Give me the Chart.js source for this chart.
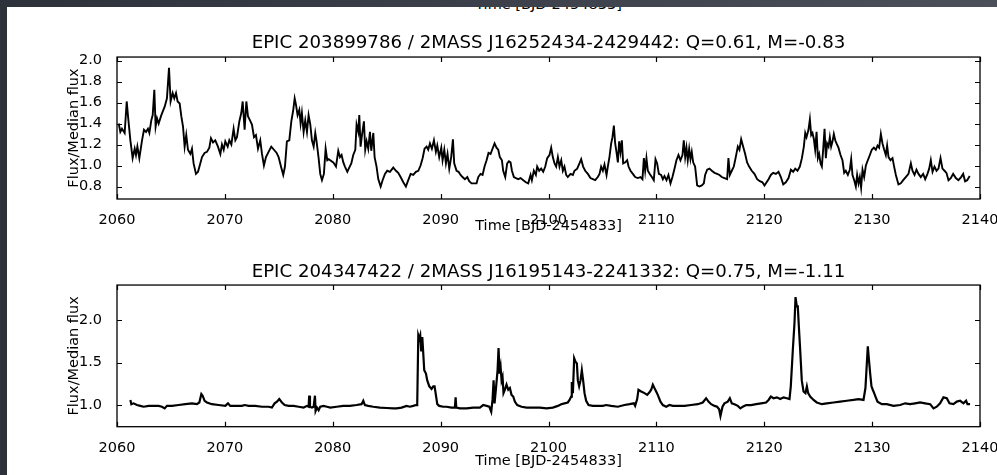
<!DOCTYPE html>
<html>
<head>
<meta charset="utf-8">
<script src="https://cdn.jsdelivr.net/npm/chart.js@4.4.1/dist/chart.umd.min.js"></script>
<style>
	html, body { margin: 0; padding: 0; }
	body { width: 997px; height: 475px; overflow: hidden; background: linear-gradient(90deg, #2d313a 0%, #3d424d 55%, #4b505b 100%); }
	#sheet { position: absolute; left: 7px; top: 7px; width: 990px; height: 468px; background: #fff; overflow: hidden; }
	#sheet canvas { position: absolute; left: -7px; }
	#cutLabel { position: absolute; left: -7px; top: -11px; width: 1097px; text-align: center; font: 14.5px "DejaVu Sans"; line-height: 17px; color: #000; }
</style>
</head>
<body>
<div id="sheet">
	<div id="cutLabel">Time [BJD-2454833]</div>
	<canvas id="lc1" width="997" height="240" style="top:-7px; width:997px; height:240px;"></canvas>
	<canvas id="lc2" width="997" height="235" style="top:233px; width:997px; height:235px;"></canvas>
</div>
<script>
// EPIC 203899786 : time [BJD-2454833] / flux
const time1 = [
	2060.16,2060.31,2060.46,2060.71,2060.90,2061.02,2061.24,2061.45,2061.64,2061.76,
	2061.89,2062.07,2062.32,2062.50,2062.69,2062.87,2063.00,2063.18,2063.31,2063.46,
	2063.58,2063.71,2063.86,2064.11,2064.42,2064.63,2064.82,2064.97,2065.16,2065.31,
	2065.47,2065.62,2065.81,2065.96,2066.12,2066.27,2066.42,2066.58,2066.80,2066.95,
	2067.10,2067.32,2067.51,2067.72,2067.88,2068.12,2068.34,2068.56,2068.71,2068.90,
	2069.11,2069.36,2069.58,2069.73,2069.89,2070.04,2070.26,2070.41,2070.60,2070.81,
	2070.97,2071.12,2071.34,2071.52,2071.65,2071.83,2071.99,2072.14,2072.33,2072.51,
	2072.70,2072.88,2073.07,2073.28,2073.44,2073.62,2073.81,2074.05,2074.30,2074.55,
	2074.80,2074.98,2075.20,2075.41,2075.57,2075.75,2075.97,2076.16,2076.34,2076.47,
	2076.59,2076.74,2076.90,2077.02,2077.14,2077.30,2077.45,2077.61,2077.76,2077.92,
	2078.07,2078.23,2078.38,2078.50,2078.69,2078.84,2079.00,2079.18,2079.34,2079.49,
	2079.62,
	2080.05,2080.30,2080.51,2080.67,2080.82,2080.98,2081.13,2081.35,2081.53,2081.72,
	2081.90,2082.09,2082.21,2082.37,2082.46,2082.58,2082.71,2082.89,2083.01,2083.14,
	2083.29,2083.45,2083.57,2083.76,2083.88,2084.06,2084.22,2084.44,2084.62,2084.84,
	2085.05,2085.30,2085.61,2085.86,2086.07,2086.29,2086.54,2086.78,2087.00,2087.22,
	2087.46,2087.71,2087.93,2088.14,2088.33,2088.51,2088.70,2088.85,2089.01,2089.19,
	2089.38,2089.56,2089.69,2089.87,2090.06,2090.18,2090.34,2090.49,2090.64,2090.80,
	2090.98,2091.14,2091.26,2091.48,2091.66,2091.85,2092.03,2092.25,2092.47,2092.65,
	2092.87,2093.08,2093.33,2093.49,2093.70,2093.89,2094.07,2094.26,2094.44,2094.63,
	2094.81,2095.00,2095.18,2095.34,2095.49,2095.68,2095.80,2095.99,2096.17,2096.33,
	2096.48,2096.61,2096.79,2096.98,2097.19,2097.41,2097.66,2097.90,2098.12,2098.34,
	2098.46,2098.64,2098.83,2098.95,2099.14,2099.32,2099.51,2099.70,2099.88,
	2100.09,2100.25,2100.40,2100.56,2100.71,2100.87,2101.02,2101.18,2101.33,2101.48,
	2101.64,2101.79,2102.04,2102.26,2102.41,2102.66,2102.87,2103.03,2103.21,2103.40,
	2103.65,2103.89,2104.11,2104.33,2104.57,2104.73,2104.88,2105.04,2105.19,2105.38,
	2105.50,2105.65,2105.81,2105.93,2106.06,2106.18,2106.30,2106.43,2106.55,2106.67,
	2106.80,2106.92,2107.11,2107.29,2107.42,2107.60,2107.82,2108.03,2108.28,2108.53,
	2108.71,2108.84,2108.96,2109.08,2109.21,2109.39,2109.58,2109.76,2109.92,2110.07,
	2110.23,2110.44,2110.60,2110.75,2110.94,2111.12,2111.31,2111.49,2111.68,2111.86,
	2112.05,2112.23,2112.42,2112.54,2112.67,2112.79,2112.91,2113.04,2113.16,2113.28,
	2113.41,2113.59,2113.78,2113.99,2114.21,2114.40,2114.52,2114.71,2114.92,2115.14,
	2115.39,2115.63,2115.85,2116.06,2116.31,2116.56,2116.68,2116.81,2116.99,2117.18,
	2117.36,2117.55,2117.70,2117.86,2118.04,2118.23,2118.41,2118.60,2118.84,2119.09,
	2119.34,2119.59,2119.83,2120.02,
	2120.40,2120.61,2120.83,2121.08,2121.32,2121.54,2121.76,2122.00,2122.25,2122.47,
	2122.68,2122.87,2123.08,2123.30,2123.49,2123.67,2123.80,2123.92,2124.10,2124.23,
	2124.35,2124.47,2124.60,2124.72,2124.85,2124.97,2125.09,2125.22,2125.34,2125.46,
	2125.59,2125.71,2125.83,2125.96,2126.08,2126.20,2126.33,2126.45,2126.58,2126.70,
	2126.88,2127.07,2127.25,2127.41,2127.56,2127.75,2127.93,2128.06,2128.18,2128.34,
	2128.49,2128.61,2128.74,2128.86,2128.98,2129.11,2129.26,2129.42,2129.60,2129.79,
	2129.97,2130.16,2130.34,2130.50,2130.65,2130.81,2130.96,2131.12,2131.27,2131.39,
	2131.52,2131.70,2131.89,2132.04,2132.20,2132.44,2132.66,2132.88,2133.12,2133.37,
	2133.59,2133.74,2133.93,2134.11,2134.30,2134.51,2134.73,2134.92,2135.13,2135.29,
	2135.44,2135.60,2135.78,2135.97,2136.15,2136.34,2136.52,2136.71,2136.89,2137.08,
	2137.29,2137.51,2137.76,2138.00,2138.25,2138.44,2138.62,2138.81,2139.05
];
const flux1 = [
	1.40,1.32,1.35,1.31,1.61,1.47,1.24,1.07,1.16,1.10,
	1.18,1.07,1.24,1.34,1.32,1.35,1.31,1.43,1.48,1.72,
	1.37,1.45,1.40,1.48,1.56,1.64,1.93,1.61,1.69,1.64,
	1.69,1.61,1.59,1.47,1.37,1.18,1.29,1.15,1.11,1.16,
	1.02,0.92,0.94,1.02,1.08,1.12,1.13,1.17,1.26,1.22,
	1.24,1.18,1.11,1.20,1.15,1.23,1.18,1.24,1.20,1.35,
	1.24,1.27,1.42,1.50,1.61,1.34,1.61,1.47,1.43,1.39,
	1.27,1.29,1.16,1.24,1.11,1.00,1.08,1.13,1.18,1.15,
	1.12,1.08,0.99,0.91,0.99,1.23,1.24,1.42,1.53,1.64,
	1.58,1.48,1.53,1.40,1.50,1.32,1.43,1.32,1.48,1.39,
	1.24,1.18,1.31,1.23,1.07,0.92,0.86,0.92,1.16,1.05,
	1.06,
	1.03,0.99,1.14,1.08,1.10,1.03,0.99,0.94,0.98,1.02,
	1.10,1.15,1.39,1.32,1.48,1.18,1.29,1.42,1.15,1.23,
	1.16,1.32,1.14,1.31,1.08,0.99,0.87,0.80,0.86,0.92,
	0.95,0.94,0.98,0.95,0.93,0.89,0.84,0.80,0.86,0.92,
	0.91,0.94,0.95,1.00,1.07,1.16,1.18,1.15,1.21,1.16,
	1.24,1.13,1.19,1.08,1.17,1.05,1.15,1.02,1.11,0.97,
	1.08,1.25,1.02,0.95,0.94,0.91,0.89,0.87,0.89,0.85,
	0.83,0.83,0.83,0.89,0.92,0.91,0.99,1.05,1.12,1.11,
	1.16,1.21,1.17,1.15,1.08,1.05,0.95,0.89,1.02,1.04,
	1.03,0.95,0.89,0.88,0.87,0.88,0.86,0.84,0.83,0.91,
	0.86,0.95,0.91,0.99,0.95,0.97,0.94,0.99,1.07,
	1.10,1.17,1.08,1.02,0.99,1.08,0.99,1.05,0.95,0.99,
	0.91,0.89,0.92,0.91,0.95,0.97,1.02,1.06,0.99,0.95,
	0.92,0.88,0.87,0.86,0.89,0.92,0.99,0.95,1.01,0.91,
	0.99,1.08,1.21,1.27,1.38,1.21,1.13,1.03,1.23,1.13,
	1.24,1.02,1.03,1.05,0.99,0.95,0.92,0.89,0.88,0.89,
	0.87,1.07,0.95,1.07,0.95,0.92,0.89,0.86,1.06,1.02,
	0.92,0.91,0.87,0.90,0.86,0.91,0.83,0.89,0.97,1.05,
	1.10,1.05,1.10,1.24,1.08,1.17,1.05,1.16,1.06,1.13,
	1.03,0.99,0.81,0.80,0.81,0.83,0.91,0.96,0.97,0.95,
	0.93,0.92,0.91,0.89,0.88,0.87,1.07,0.91,0.95,0.99,
	1.08,1.18,1.15,1.25,1.18,1.11,1.03,0.99,0.95,0.92,
	0.87,0.85,0.84,0.81,
	0.87,0.91,0.93,0.92,0.94,0.89,0.82,0.84,0.88,0.96,
	0.94,0.97,0.95,0.99,1.07,1.18,1.31,1.27,1.34,1.44,
	1.29,1.31,1.25,1.15,1.32,1.07,1.11,1.02,0.99,1.15,
	1.35,1.07,1.21,1.18,1.27,1.18,1.23,1.30,1.24,1.21,
	1.17,1.10,1.05,0.93,0.95,0.91,0.96,1.06,0.91,0.86,
	0.80,0.91,0.83,0.89,0.79,0.96,0.89,1.00,1.05,1.10,
	1.15,1.17,1.15,1.19,1.17,1.30,1.21,1.15,1.10,1.19,
	1.08,1.05,1.07,0.99,0.91,0.82,0.83,0.86,0.89,0.92,
	1.02,0.95,0.91,0.96,0.92,0.89,0.92,0.87,0.92,0.97,
	1.05,0.94,0.99,0.95,0.97,1.07,0.97,0.95,0.93,0.86,
	0.88,0.92,0.88,0.86,0.89,0.92,0.85,0.86,0.90
];

// EPIC 204347422 : time [BJD-2454833] / flux
const time2 = [
	2061.24,2061.33,2061.54,2061.85,2062.16,2062.47,2062.94,2063.40,2063.86,2064.17,
	2064.42,2064.63,2065.10,2065.72,2066.33,2066.95,2067.41,2067.63,2067.82,2067.94,
	2068.12,2068.34,2068.80,2069.42,2070.04,2070.29,2070.50,2070.97,2071.58,2071.83,
	2072.20,2072.82,2073.44,2074.05,2074.36,2074.61,2074.83,2075.04,2075.29,2075.54,
	2075.91,2076.37,2076.84,2077.30,2077.61,2077.76,2077.82,2077.89,2078.07,2078.23,
	2078.35,2078.41,2078.54,2078.69,2078.84,2079.15,2079.46,2079.77,
	2080.36,2080.98,2081.59,2082.21,2082.67,2082.83,2082.98,2083.29,2083.76,2084.37,
	2084.99,2085.61,2085.92,2086.38,2086.84,2087.15,2087.46,2087.71,2087.83,2087.93,
	2088.02,2088.11,2088.20,2088.30,2088.39,2088.48,2088.64,2088.76,2088.95,2089.16,
	2089.32,2089.44,2089.56,2089.69,2089.87,2090.24,2090.55,2091.01,2091.32,2091.39,
	2091.45,2091.79,2092.41,2093.02,2093.64,2093.95,2094.26,2094.51,2094.69,2094.81,
	2094.91,2095.00,2095.12,2095.28,2095.37,2095.46,2095.56,2095.65,2095.74,2095.83,
	2095.96,2096.11,2096.27,2096.42,2096.57,2096.73,2096.88,2097.10,2097.50,2097.97,
	2098.58,2099.20,2099.82,
	2100.40,2100.87,2101.18,2101.48,2101.79,2101.95,2102.10,2102.16,2102.26,2102.38,
	2102.50,2102.63,2102.72,2102.84,2102.97,2103.09,2103.21,2103.34,2103.49,2103.71,
	2104.11,2104.57,2105.04,2105.35,2105.81,2106.43,2107.04,2107.51,2107.91,2108.03,
	2108.22,2108.34,2108.59,2108.90,2109.15,2109.36,2109.52,2109.67,2109.82,2109.98,
	2110.13,2110.38,2110.60,2110.91,2111.21,2111.52,2111.99,2112.61,2113.22,2113.84,
	2114.30,2114.61,2114.83,2115.08,2115.39,2115.63,2115.82,2115.94,2116.13,2116.31,
	2116.62,2116.81,2116.99,2117.24,2117.55,2117.79,2118.01,2118.32,2118.78,2119.25,
	2119.71,2120.17,
	2120.40,2120.61,2120.86,2121.17,2121.48,2121.79,2122.09,2122.34,2122.46,2122.65,
	2122.80,2122.90,2123.02,2123.11,2123.21,2123.33,2123.48,2123.64,2123.82,2123.95,
	2124.07,2124.26,2124.57,2124.87,2125.34,2125.80,2126.42,2127.04,2127.65,2128.27,
	2128.74,2129.20,2129.38,2129.51,2129.60,2129.72,2129.82,2129.94,2130.06,2130.19,
	2130.31,2130.50,2130.90,2131.36,2131.98,2132.60,2133.06,2133.52,2133.99,2134.45,
	2134.91,2135.38,2135.69,2135.99,2136.30,2136.61,2136.92,2137.17,2137.54,2137.85,
	2138.16,2138.47,2138.71,2138.84,2139.08
];
const flux2 = [
	1.06,1.01,1.02,1.00,0.99,0.98,0.99,0.99,0.99,0.98,
	0.96,0.99,0.99,1.00,1.01,1.02,1.01,1.03,1.13,1.11,
	1.05,1.03,1.01,1.00,0.99,1.02,0.99,0.99,0.99,1.00,
	0.99,0.99,0.98,0.98,0.97,1.02,1.04,1.07,1.03,1.00,
	0.99,0.99,0.98,0.97,0.99,0.98,1.11,0.98,0.97,0.98,
	1.11,0.93,0.97,0.94,0.98,0.99,0.98,0.97,
	0.98,0.99,0.99,1.00,1.01,1.05,1.00,0.99,0.98,0.97,
	0.965,0.96,0.96,0.97,0.99,0.98,0.99,1.00,1.00,1.82,
	1.78,1.82,1.63,1.80,1.61,1.41,1.37,1.29,1.22,1.19,
	1.22,1.22,1.12,1.01,0.99,0.98,0.98,0.97,0.97,1.09,
	0.97,0.96,0.96,0.97,0.97,1.00,0.99,0.98,0.92,1.06,
	1.29,1.02,1.18,1.41,1.67,1.37,1.45,1.29,1.33,1.14,
	1.18,1.24,1.18,1.20,1.12,1.10,1.04,1.00,0.98,0.97,
	0.97,0.97,0.96,
	0.97,0.99,1.01,1.02,1.03,1.06,1.10,1.27,1.14,1.55,
	1.51,1.49,1.29,1.22,1.29,1.41,1.29,1.14,1.05,1.00,
	0.99,0.99,0.99,1.00,0.99,0.98,1.00,1.01,1.02,0.99,
	1.07,1.18,1.16,1.14,1.12,1.15,1.18,1.24,1.20,1.16,
	1.12,1.04,1.00,0.98,1.00,0.99,0.99,0.99,1.00,1.01,
	1.03,1.08,1.04,1.01,0.99,0.98,0.95,0.87,0.98,1.02,
	1.04,1.08,1.02,1.01,0.99,0.96,0.98,1.00,1.00,1.01,
	1.02,1.03,
	1.06,1.10,1.08,1.09,1.07,1.09,1.08,1.07,1.22,1.65,
	1.96,2.27,2.16,2.16,1.92,1.65,1.29,1.16,1.14,1.22,
	1.14,1.10,1.06,1.03,1.01,1.02,1.03,1.04,1.05,1.06,
	1.07,1.06,1.20,1.49,1.69,1.51,1.37,1.22,1.18,1.14,
	1.10,1.04,1.01,1.01,0.99,1.00,1.02,1.01,1.02,1.03,
	1.02,1.01,0.96,0.98,1.02,1.09,1.08,1.02,1.01,1.04,
	1.05,1.02,1.05,1.01,1.01
];

const xTicks = [2060, 2140, 10];
const title1 = "EPIC 203899786 / 2MASS J16252434-2429442: Q=0.61, M=-0.83";
const title2 = "EPIC 204347422 / 2MASS J16195143-2241332: Q=0.75, M=-1.11";

Chart.defaults.font.family = '"DejaVu Sans", sans-serif';
Chart.defaults.color = '#000';

// matplotlib style frame with inward ticks on all four sides
const frameTicks = {
	id: 'frameTicks',
	afterDraw(chart) {
		const ctx = chart.ctx;
		const a = chart.chartArea;
		const x = chart.scales.x, y = chart.scales.y;
		ctx.save();
		ctx.strokeStyle = '#000';
		ctx.lineWidth = 1.2;
		ctx.beginPath();
		x.ticks.forEach(tk => {
			const px = Math.round(x.getPixelForValue(tk.value)) + 0.5;
			ctx.moveTo(px, a.bottom); ctx.lineTo(px, a.bottom - 5);
			ctx.moveTo(px, a.top); ctx.lineTo(px, a.top + 5);
		});
		y.ticks.forEach(tk => {
			const py = Math.round(y.getPixelForValue(tk.value)) + 0.5;
			ctx.moveTo(a.left, py); ctx.lineTo(a.left + 5, py);
			ctx.moveTo(a.right, py); ctx.lineTo(a.right - 5, py);
		});
		ctx.stroke();
		ctx.lineWidth = 1.3;
		ctx.strokeRect(a.left, a.top, a.right - a.left, a.bottom - a.top);
		ctx.restore();
	}
};

function lightCurve(id, time, flux, title, yMin, yMax, yStep, lay) {
	const tickFont = { size: 14.5, lineHeight: 1.2 };
	return new Chart(document.getElementById(id), {
		type: 'line',
		data: {
			datasets: [{
				data: time.map((t, i) => ({ x: t, y: flux[i] })),
				borderColor: '#000',
				borderWidth: lay.line,
				pointRadius: 0,
				tension: 0,
				fill: false
			}]
		},
		options: {
			responsive: false,
			animation: false,
			devicePixelRatio: 1,
			layout: { padding: { left: 0, right: 17, top: 0, bottom: 0 } },
			plugins: {
				legend: { display: false },
				tooltip: { enabled: false },
				title: {
					display: true,
					fullSize: false,
					text: title,
					color: '#000',
					font: { size: 18.2, weight: 'normal', lineHeight: 1.2 },
					padding: { top: lay.titleTop, bottom: lay.titleBottom }
				}
			},
			scales: {
				x: {
					type: 'linear',
					min: xTicks[0],
					max: xTicks[1],
					grid: { display: false },
					border: { display: false },
					ticks: { stepSize: xTicks[2], padding: 4.5, font: tickFont, maxRotation: 0, autoSkip: false,
						callback: v => String(v) },
					title: { display: true, text: 'Time [BJD-2454833]', font: tickFont, padding: { top: 0, bottom: 5.3 } },
					afterFit: s => { s.height = lay.xHeight; s.paddingLeft = 0; s.paddingRight = 0; }
				},
				y: {
					type: 'linear',
					min: yMin,
					max: yMax,
					grid: { display: false },
					border: { display: false },
					ticks: { stepSize: yStep, includeBounds: false, padding: 7, font: tickFont,
						callback: v => v.toFixed(1) },
					title: { display: true, text: 'Flux/Median flux', font: tickFont, padding: { top: 65.8, bottom: 0 } },
					afterFit: s => { s.width = 117; s.paddingTop = 0; s.paddingBottom = 0; }
				}
			}
		},
		plugins: [frameTicks]
	});
}

lightCurve('lc1', time1, flux1, title1, 0.681, 2.033, 0.2,
	{ titleTop: 32, titleBottom: 3.2, xHeight: 41, line: 1.9 });
lightCurve('lc2', time2, flux2, title2, 0.745, 2.412, 0.5,
	{ titleTop: 21, titleBottom: 2.2, xHeight: 48.3, line: 2.2 });
</script>
</body>
</html>
